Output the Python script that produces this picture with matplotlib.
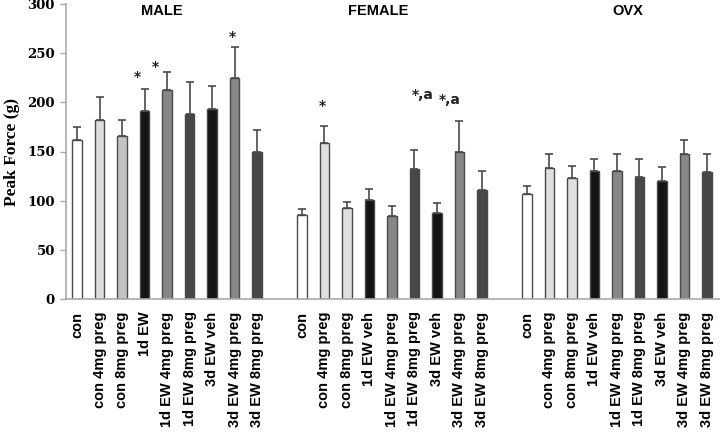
import matplotlib
matplotlib.use("Agg")
import matplotlib.pyplot as plt
import numpy as np

groups = ["MALE", "FEMALE", "OVX"]
male_labels = ["con", "con 4mg preg", "con 8mg preg", "1d EW", "1d EW 4mg preg",
               "1d EW 8mg preg", "3d EW veh", "3d EW 4mg preg", "3d EW 8mg preg"]
female_labels = ["con", "con 4mg preg", "con 8mg preg", "1d EW veh", "1d EW 4mg preg",
                 "1d EW 8mg preg", "3d EW veh", "3d EW 4mg preg", "3d EW 8mg preg"]
ovx_labels = female_labels

male_vals = [162, 182, 166, 191, 213, 188, 193, 225, 149]
male_err = [13, 23, 16, 23, 18, 33, 24, 31, 23]
female_vals = [85, 159, 93, 101, 84, 132, 87, 150, 111]
female_err = [7, 17, 6, 11, 11, 20, 11, 31, 19]
ovx_vals = [107, 133, 123, 130, 130, 124, 120, 147, 129]
ovx_err = [8, 14, 12, 12, 17, 18, 14, 15, 18]

male_colors = ["#ffffff", "#dedede", "#c2c2c2", "#141414", "#878787",
               "#474747", "#141414", "#878787", "#474747"]
fem_colors = ["#ffffff", "#e0e0e0", "#e0e0e0", "#141414", "#878787",
              "#474747", "#141414", "#878787", "#474747"]

# group title offsets (in bar slots) relative to group start
title_offsets = [3.75, 3.4, 4.5]

# annotations: (group index, bar index, text, x offset in slots, baseline y value)
annots = [(0, 3, "*", -0.33, 222), (0, 4, "*", -0.53, 232), (0, 7, "*", -0.1, 262),
          (1, 1, "*", -0.1, 192), (1, 5, "*,a", 0.38, 203), (1, 7, "*,a", -0.42, 198)]

fig = plt.figure(figsize=(7.2, 4.32), dpi=100)
ax = fig.add_axes([66/720, 1-299/432, 1-66/720, 295/432])

all_vals = [male_vals, female_vals, ovx_vals]
all_err = [male_err, female_err, ovx_err]
all_labels = [male_labels, female_labels, ovx_labels]
all_colors = [male_colors, fem_colors, fem_colors]

xt, xl = [], []
for g in range(3):
    x = np.arange(9) + g * 10
    ax.bar(x, all_vals[g], width=0.44, color=all_colors[g], edgecolor="#4a4a4a",
           linewidth=1.0, zorder=2)
    ax.errorbar(x, all_vals[g], yerr=[np.zeros(9), all_err[g]], fmt="none",
                ecolor="#4a4a4a", elinewidth=1.2, capsize=2.8, capthick=1.2, zorder=1)
    xt += list(x)
    xl += all_labels[g]
    ax.text(g * 10 + title_offsets[g], 293, groups[g], ha="center", va="center",
            fontsize=10.5, fontweight="bold", family="Liberation Sans")

for g, i, t, dx, y in annots:
    ax.text(g * 10 + i + dx, y, t, ha="center", va="baseline", fontsize=10,
            fontweight="bold", family="DejaVu Sans", color="#222222")

ax.set_xlim(-0.49, 28.58)
ax.set_ylim(0, 300)
ax.set_xticks(xt)
ax.set_xticklabels(xl, rotation=90, fontsize=10.5, fontweight="bold",
                   family="Liberation Sans")
ax.tick_params(axis="x", length=0, pad=9)
ax.set_yticks(np.arange(0, 301, 50))
ax.tick_params(axis="y", length=4, color="#aaaaaa", width=1, pad=4,
               labelsize=9.5)
for lab in ax.get_yticklabels():
    lab.set_fontweight("bold")
    lab.set_family("DejaVu Serif")
ax.set_ylabel("Peak Force (g)", fontsize=12.5, fontweight="bold",
              family="Liberation Serif", labelpad=5)
for s in ["top", "right"]:
    ax.spines[s].set_visible(False)
for s in ["left", "bottom"]:
    ax.spines[s].set_color("#aaaaaa")
    ax.spines[s].set_linewidth(1.2)

fig.savefig("out.png", dpi=100)
